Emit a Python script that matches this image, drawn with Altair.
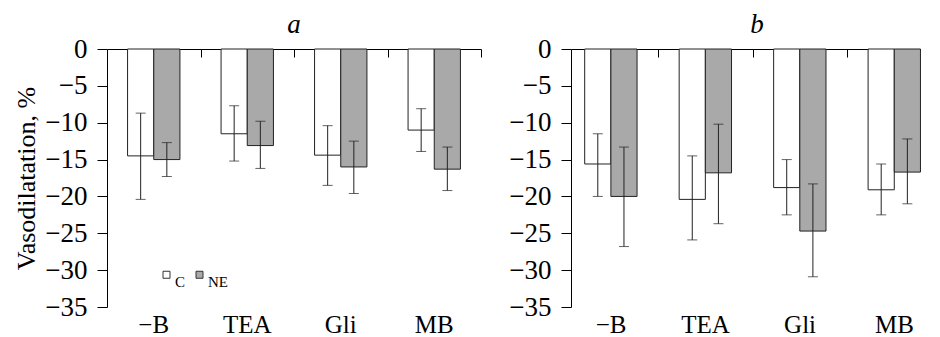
import altair as alt
import pandas as pd

categories = ["−B", "TEA", "Gli", "MB"]
groups = ["C", "NE"]

# Panel a
a_C_mean = [-14.5, -11.5, -14.4, -11.0]
a_C_lo = [-20.4, -15.2, -18.5, -13.9]
a_C_hi = [-8.7, -7.7, -10.4, -8.1]
a_NE_mean = [-15.0, -13.1, -16.0, -16.3]
a_NE_lo = [-17.3, -16.2, -19.6, -19.2]
a_NE_hi = [-12.7, -9.8, -12.5, -13.3]

# Panel b
b_C_mean = [-15.6, -20.4, -18.8, -19.1]
b_C_lo = [-20.0, -25.9, -22.5, -22.5]
b_C_hi = [-11.5, -14.5, -15.0, -15.6]
b_NE_mean = [-20.0, -16.8, -24.7, -16.7]
b_NE_lo = [-26.8, -23.7, -30.9, -21.0]
b_NE_hi = [-13.3, -10.2, -18.3, -12.2]

y_ticks = [0, -5, -10, -15, -20, -25, -30, -35]

FONT = "Liberation Serif"
H = 258
PI = 0.44


def make_df(c_mean, c_lo, c_hi, ne_mean, ne_lo, ne_hi):
    rows = []
    for i, cat in enumerate(categories):
        rows.append({"cat": cat, "group": "C", "mean": c_mean[i], "lo": c_lo[i], "hi": c_hi[i]})
        rows.append({"cat": cat, "group": "NE", "mean": ne_mean[i], "lo": ne_lo[i], "hi": ne_hi[i]})
    return pd.DataFrame(rows)


def panel(df, title, y_title, width, pad_outer, align, step, tick_cats, title_dx):
    xscale = alt.Scale(paddingInner=PI, paddingOuter=pad_outer, align=align)
    xoff = alt.XOffset("group:N", sort=groups, scale=alt.Scale(paddingInner=0, paddingOuter=0))
    yscale = alt.Scale(domain=[-35, 0], nice=False)

    def yenc(field):
        return alt.Y(field, scale=yscale, title=y_title,
                     axis=alt.Axis(values=y_ticks, grid=False, labelPadding=10, tickSize=10,
                                   labelFontSize=27, labelFont=FONT))

    base = alt.Chart(df)
    bars = base.mark_bar(stroke="#222", strokeWidth=1).encode(
        x=alt.X("cat:N", sort=categories, scale=xscale,
                axis=alt.Axis(title=None, orient="bottom", domain=False, ticks=False,
                              labelFont=FONT, labelFontSize=25, labelColor="black",
                              labelPadding=5, labelAngle=0)),
        xOffset=xoff,
        y=yenc("mean:Q"),
        fill=alt.Fill("group:N", sort=groups,
                      scale=alt.Scale(domain=groups, range=["white", "#a9a9a9"]),
                      legend=alt.Legend(title=None, orient="none", legendX=52, legendY=218,
                                        direction="horizontal", symbolType="square",
                                        symbolSize=49, symbolStrokeColor="#333",
                                        symbolStrokeWidth=1, labelFont=FONT, labelFontSize=15,
                                        labelColor="black", labelBaseline="top",
                                        labelOffset=1, columnPadding=6)),
    )
    rules = base.mark_rule(color="#222", strokeWidth=1).encode(
        x=alt.X("cat:N", sort=categories, scale=xscale,
                axis=alt.Axis(title=None, orient="bottom", offset=-H, labels=False,
                              values=tick_cats, ticks=True, tickSize=8, tickOffset=step / 2,
                              domain=True, domainColor="black", tickColor="black", grid=False)),
        xOffset=xoff,
        y=yenc("lo:Q"),
        y2="hi:Q",
    )
    cap_lo = base.mark_tick(color="#222", size=10, thickness=1).encode(
        x=alt.X("cat:N", sort=categories, scale=xscale, axis=None),
        xOffset=xoff,
        y=yenc("lo:Q"),
    )
    cap_hi = base.mark_tick(color="#222", size=10, thickness=1).encode(
        x=alt.X("cat:N", sort=categories, scale=xscale, axis=None),
        xOffset=xoff,
        y=yenc("hi:Q"),
    )
    return alt.layer(bars, rules, cap_lo, cap_hi).resolve_axis(x="independent").properties(
        width=width, height=H,
        title=alt.TitleParams(text=title, font=FONT, fontStyle="italic", fontSize=27,
                              fontWeight="normal", color="black", offset=-4, anchor="middle",
                              dx=title_dx),
    )


df_a = make_df(a_C_mean, a_C_lo, a_C_hi, a_NE_mean, a_NE_lo, a_NE_hi)
df_b = make_df(b_C_mean, b_C_lo, b_C_hi, b_NE_mean, b_NE_lo, b_NE_hi)

WA = 374
WB = 350
step_a = WA / (len(categories) - PI + 2 * 0.22)
po_b = 0.0725
step_b = WB / (len(categories) - PI + 2 * po_b)

chart = alt.hconcat(
    panel(df_a, "a", "Vasodilatation, %", WA, 0.22, 0.5, step_a, categories, 0),
    panel(df_b, "b", "", WB, po_b, 1.0, step_b, categories[:3], 11),
    spacing=26,
).properties(
    padding={"left": 5, "top": 3, "right": 0, "bottom": 0}
).configure(
    background="white", font=FONT
).configure_view(
    stroke=None
).configure_axis(
    labelFont=FONT, titleFont=FONT, labelColor="black", titleColor="black",
    domainColor="black", tickColor="black", grid=False
).configure_axisY(
    labelFontSize=27, titleFontSize=26, titleFontWeight="normal", tickSize=10,
    labelPadding=10, titlePadding=5
).configure_legend(labelFont=FONT)

chart.save("out.html", embed_options={"renderer": "svg", "actions": False})
